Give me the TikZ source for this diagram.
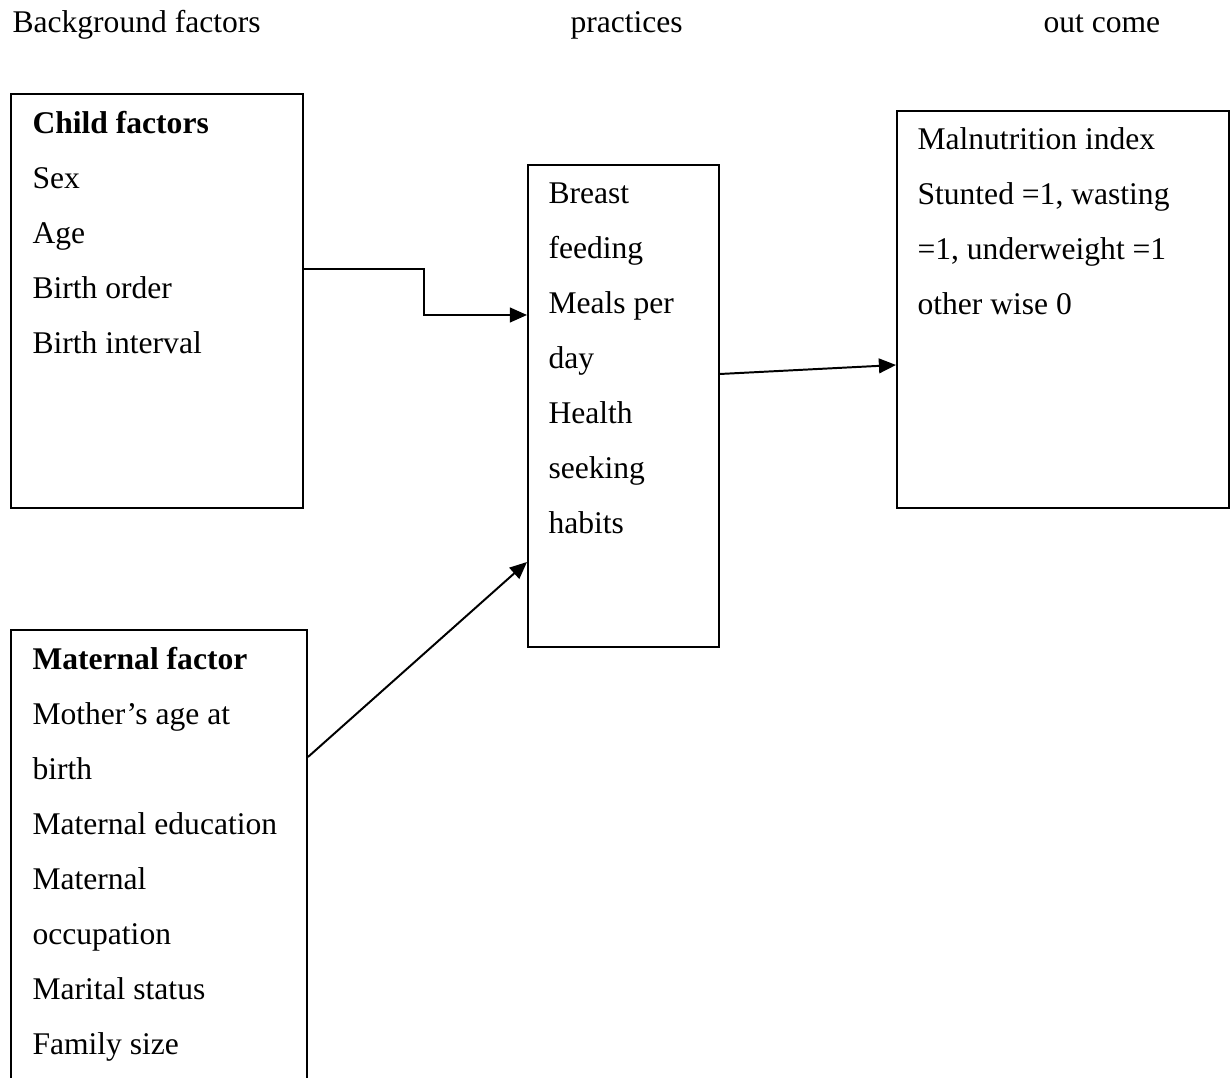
\documentclass[tikz,border=0pt]{standalone}
\usepackage{fontspec}
\setmainfont{Liberation Serif}
\usetikzlibrary{calc, arrows.meta}

\begin{document}
\begin{tikzpicture}[x=0.38pt, y=-0.38pt,
        box/.style={draw, line width=0.75pt, inner sep=0pt, anchor=north west},
        txt/.style={anchor=base west, inner sep=0pt, align=left, font=\fontsize{12}{20.9}\selectfont},
        arr/.style={line width=0.75pt, -{Triangle[length=6.5pt, width=5.6pt]}}]
    \clip (0,0) rectangle (1230,1078);
    % headings
    \node[txt] (bghead) at (12,33) {Background factors};
    \node[txt] (prhead) at (570,33) {practices};
    \node[txt] (ochead) at (1043,33) {out come};
    % boxes
    \node[box, minimum width=292*0.38pt, minimum height=414*0.38pt] (child) at (10,93) {};
    \node[box, minimum width=191*0.38pt, minimum height=482*0.38pt] (practices) at (527,164) {};
    \node[box, minimum width=332*0.38pt, minimum height=397*0.38pt] (outcome) at (896,110) {};
    \node[box, minimum width=296*0.38pt, minimum height=520*0.38pt] (maternal) at (10,629) {};
    % texts (placed by the baseline of their last line)
    \node[txt] (childtxt) at (32,354) {\textbf{Child factors}\\Sex\\Age\\Birth order\\Birth interval};
    \node[txt] (practxt) at (548,534) {Breast\\feeding\\Meals per\\day\\Health\\seeking\\habits};
    \node[txt] (outtxt) at (917,315) {Malnutrition index\\Stunted =1, wasting\\=1, underweight =1\\other wise 0};
    \node[txt] (mattxt) at (32,1054) {\textbf{Maternal factor}\\Mother’s age at\\birth\\Maternal education\\Maternal\\occupation\\Marital status\\Family size};
    % arrows
    \draw[arr] ($(child.north east)+(0,176)$) -- ++(120,0) |- ($(practices.north west)+(0,151)$);
    \draw[arr] ($(maternal.north east)+(0,128)$) -- ($(practices.north west)+(0,398)$);
    \draw[arr] ($(practices.north east)+(0,210)$) -- ($(outcome.north west)+(0,255)$);
\end{tikzpicture}
\end{document}
